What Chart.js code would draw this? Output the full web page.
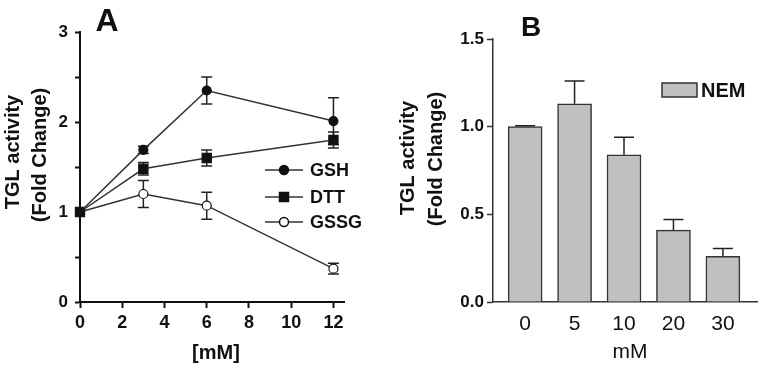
<!DOCTYPE html>
<html>
<head>
<meta charset="utf-8">
<script src="https://cdn.jsdelivr.net/npm/chart.js@4.4.0/dist/chart.umd.min.js"></script>
<style>
  html, body { margin: 0; padding: 0; background: #fff; }
  #wrap { position: relative; width: 762px; height: 371px; }
  #chartA { position: absolute; left: 0; top: 0; }
  #chartB { position: absolute; left: 380px; top: 0; }
</style>
</head>
<body>
<div id="wrap">
  <canvas id="chartA" width="380" height="371"></canvas>
  <canvas id="chartB" width="382" height="371"></canvas>
</div>
<script>
// panel A: thiol reagents, concentration in mM
const concA = [0, 3, 6, 12];
const gsh = [1.0, 1.69, 2.35, 2.01];
const gshErr = [0, 0.04, 0.15, 0.26];
const dtt = [1.0, 1.48, 1.60, 1.80];
const dttErr = [0, 0.07, 0.09, 0.09];
const gssg = [1.0, 1.20, 1.07, 0.37];
const gssgErr = [0, 0.15, 0.15, 0.06];

// panel B: NEM
const doseB = ['0', '5', '10', '20', '30'];
const nem = [1.0, 1.13, 0.84, 0.41, 0.26];
const nemErr = [0.005, 0.13, 0.10, 0.06, 0.045];

Chart.defaults.font.family = "'Liberation Sans', Arial, sans-serif";
Chart.defaults.color = '#111';

// error bars, drawn under the markers (A) or over the bars (B)
function drawErrors(chart, onTop) {
  const ctx = chart.ctx;
  chart.data.datasets.forEach((ds, di) => {
    if (!ds.errors || !!ds.errorOnTop !== onTop) return;
    const meta = chart.getDatasetMeta(di);
    const ys = chart.scales[meta.yAxisID];
    ctx.save();
    ctx.strokeStyle = ds.errorColor || '#222';
    ctx.lineWidth = 1.5;
    meta.data.forEach((el, i) => {
      const err = ds.errors[i];
      if (!err) return;
      const v = ds.data[i].y;
      const top = ys.getPixelForValue(v + err);
      const bot = ds.errorUpOnly ? el.y : ys.getPixelForValue(v - err);
      const w = ds.capWidth / 2;
      ctx.beginPath();
      ctx.moveTo(el.x, top); ctx.lineTo(el.x, bot);
      ctx.moveTo(el.x - w, top); ctx.lineTo(el.x + w, top);
      if (!ds.errorUpOnly) { ctx.moveTo(el.x - w, bot); ctx.lineTo(el.x + w, bot); }
      ctx.stroke();
    });
    ctx.restore();
  });
}
const errorBars = {
  id: 'errorBars',
  beforeDatasetsDraw(chart) { drawErrors(chart, false); },
  afterDatasetsDraw(chart) { drawErrors(chart, true); }
};

function text(ctx, s, x, y, font, rot) {
  ctx.save();
  ctx.translate(x, y);
  if (rot) ctx.rotate(-Math.PI / 2);
  ctx.font = font;
  ctx.fillStyle = '#111';
  ctx.textAlign = 'center';
  ctx.textBaseline = 'middle';
  ctx.fillText(s, 0, 0);
  ctx.restore();
}

const FF = "'Liberation Sans', Arial, sans-serif";

const decorA = {
  id: 'decorA',
  afterDraw(chart) {
    const ctx = chart.ctx;
    text(ctx, 'A', 107, 22, 'bold 32px ' + FF);
    text(ctx, 'TGL activity', 13, 152, 'bold 20px ' + FF, true);
    text(ctx, '(Fold Change)', 40, 155, 'bold 20px ' + FF, true);
    text(ctx, '[mM]', 216, 353, 'bold 20px ' + FF);
    // legend
    const rows = [170, 197, 222];
    chart.data.datasets.forEach((ds, i) => {
      const y = rows[i];
      ctx.save();
      ctx.strokeStyle = ds.borderColor;
      ctx.lineWidth = 1.5;
      ctx.beginPath(); ctx.moveTo(265, y); ctx.lineTo(303, y); ctx.stroke();
      ctx.fillStyle = ds.pointBackgroundColor;
      ctx.strokeStyle = ds.pointBorderColor;
      ctx.beginPath();
      if (ds.pointStyle === 'rect') {
        ctx.rect(284 - 4.5, y - 4.5, 9, 9);
      } else {
        ctx.arc(284, y, 4.5, 0, Math.PI * 2);
      }
      ctx.fill(); ctx.stroke();
      ctx.restore();
      ctx.save();
      ctx.font = 'bold 18px ' + FF;
      ctx.fillStyle = '#111';
      ctx.textBaseline = 'middle';
      ctx.fillText(ds.label, 310, y + 1);
      ctx.restore();
    });
  }
};

const decorB = {
  id: 'decorB',
  afterDraw(chart) {
    const ctx = chart.ctx;
    text(ctx, 'B', 151, 28, 'bold 28px ' + FF);
    text(ctx, 'TGL activity', 28, 158, 'bold 20px ' + FF, true);
    text(ctx, '(Fold Change)', 56, 159, 'bold 20px ' + FF, true);
    text(ctx, 'mM', 250, 352, '21px ' + FF);
    const ds = chart.data.datasets[0];
    ctx.save();
    ctx.fillStyle = ds.backgroundColor;
    ctx.strokeStyle = ds.borderColor;
    ctx.lineWidth = 1.5;
    ctx.fillRect(282, 83, 35, 14);
    ctx.strokeRect(282, 83, 35, 14);
    ctx.font = 'bold 20px ' + FF;
    ctx.fillStyle = '#111';
    ctx.textBaseline = 'middle';
    ctx.fillText(ds.label, 321, 91);
    ctx.restore();
  }
};

function lineSet(label, ys, errs, style, fill) {
  return {
    label: label,
    data: concA.map((x, i) => ({ x: x, y: ys[i] })),
    errors: errs,
    capWidth: 11,
    borderColor: '#333',
    borderWidth: 1.5,
    pointStyle: style,
    pointRadius: style === 'rect' ? 6.5 : 4.5,
    pointBackgroundColor: fill,
    pointBorderColor: '#111',
    pointBorderWidth: 1.2,
    clip: false
  };
}

new Chart(document.getElementById('chartA'), {
  type: 'line',
  data: {
    datasets: [
      lineSet('GSH', gsh, gshErr, 'circle', '#111'),
      lineSet('DTT', dtt, dttErr, 'rect', '#111'),
      lineSet('GSSG', gssg, gssgErr, 'circle', '#fff')
    ]
  },
  options: {
    responsive: false,
    animation: false,
    layout: { padding: { top: 32, right: 36, left: 0, bottom: 0 } },
    plugins: { legend: { display: false }, tooltip: { enabled: false } },
    scales: {
      x: {
        type: 'linear', min: 0, max: 12.5,
        afterFit: s => { s.height = 69; },
        ticks: { stepSize: 2, includeBounds: false, font: { size: 18, weight: 'bold' }, padding: 4, maxRotation: 0 },
        grid: { drawOnChartArea: false, tickLength: 6, color: '#111', tickWidth: 2 },
        border: { color: '#111', width: 2 }
      },
      y: {
        min: 0, max: 3,
        afterFit: s => { s.width = 80; },
        ticks: {
          stepSize: 0.5,
          callback: v => Number.isInteger(v) ? String(v) : '',
          font: { size: 17, weight: 'bold' }, padding: 7
        },
        grid: { drawOnChartArea: false, tickLength: 5, color: '#111', tickWidth: 2 },
        border: { color: '#111', width: 2 }
      }
    }
  },
  plugins: [errorBars, decorA]
});

new Chart(document.getElementById('chartB'), {
  type: 'bar',
  data: {
    datasets: [{
      label: 'NEM',
      data: nem.map((v, i) => ({ x: i, y: v })),
      errors: nemErr,
      errorUpOnly: true,
      errorOnTop: true,
      capWidth: 20,
      backgroundColor: '#c0c0c0',
      borderColor: '#333',
      borderWidth: 1.5,
      barThickness: 34
    }]
  },
  options: {
    responsive: false,
    animation: false,
    layout: { padding: { top: 39, right: 5, left: 0, bottom: 0 } },
    plugins: { legend: { display: false }, tooltip: { enabled: false } },
    scales: {
      x: {
        type: 'linear', min: -0.65, max: 4.69, offset: false,
        afterFit: s => { s.height = 69; },
        ticks: { stepSize: 1, includeBounds: false, callback: v => doseB[v] ?? '', font: { size: 21 }, padding: 10, maxRotation: 0 },
        grid: { offset: false, drawOnChartArea: false, drawTicks: false },
        border: { color: '#333', width: 1.5 }
      },
      y: {
        min: 0, max: 1.5,
        afterFit: s => { s.width = 113; },
        ticks: { stepSize: 0.5, callback: v => v.toFixed(1), font: { size: 17, weight: 'bold' }, padding: 3 },
        grid: { drawOnChartArea: false, tickLength: 6, color: '#333', tickWidth: 1.5 },
        border: { color: '#333', width: 1.5 }
      }
    }
  },
  plugins: [errorBars, decorB]
});
</script>
</body>
</html>
